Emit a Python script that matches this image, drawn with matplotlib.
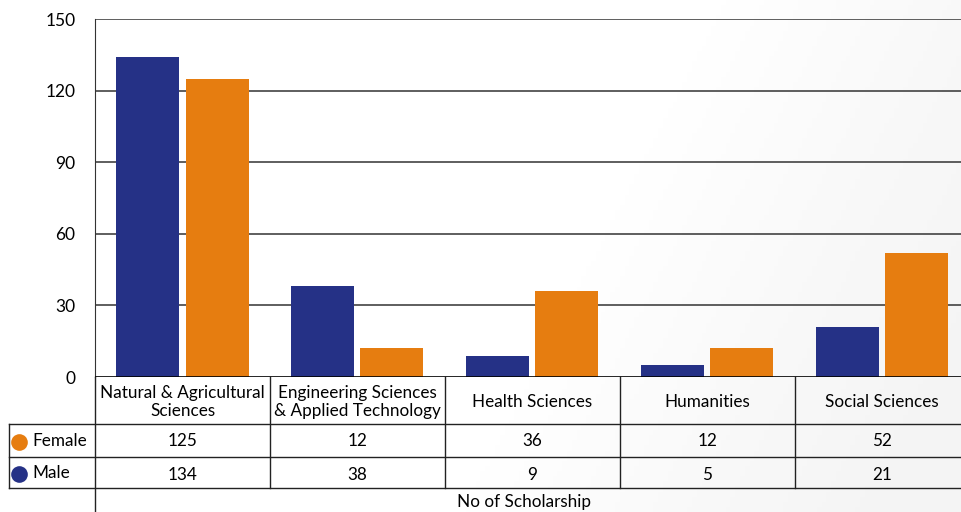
import matplotlib.pyplot as plt
import numpy as np
from matplotlib.transforms import blended_transform_factory

plt.rcParams['font.family'] = ['Lato', 'DejaVu Sans']

# data
categories = ["Natural & Agricultural\nSciences", "Engineering Sciences\n& Applied Technology",
              "Health Sciences", "Humanities", "Social Sciences"]
male = [134, 38, 9, 5, 21]
female = [125, 12, 36, 12, 52]
yticks = [0, 30, 60, 90, 120, 150]

male_col = "#253186"
female_col = "#E67D10"

W, H = 961, 512
fig = plt.figure(figsize=(W / 100, H / 100), dpi=100)

# soft background gradient
bg = fig.add_axes([0, 0, 1, 1], zorder=-10)
gx = np.linspace(0, 1, 200)
gy = np.linspace(0, 1, 100)
GX, GY = np.meshgrid(gx, gy)
grad = np.clip((GX - 0.6) * 2.2 + (0.5 - GY) * 0.6, 0, 1)
bg.imshow(grad, cmap="Greys", vmin=0, vmax=11, extent=[0, 1, 0, 1], aspect="auto", origin="lower")
bg.axis("off")

def fx(x):
    return x / W

def fy(y):
    return 1 - y / H

ax = fig.add_axes([fx(95), fy(377), fx(961) - fx(95), fy(19) - fy(377)])
ax.set_facecolor("none")
x = np.arange(len(categories))
bw = 0.36
gap = 0.035
ax.bar(x - bw / 2 - gap / 2, male, bw, color=male_col, zorder=3)
ax.bar(x + bw / 2 + gap / 2, female, bw, color=female_col, zorder=3)
ax.set_xlim(-0.5, 4.45)
ax.set_ylim(0, 150)
ax.set_yticks(yticks)
ax.tick_params(axis="y", length=0, pad=14, labelsize=12.5)
ax.set_xticks([])
for t in yticks[1:]:
    ax.axhline(t, color="#333333", lw=1.1, zorder=1)
ax.axhline(0, color="black", lw=1.2, zorder=4)
for s in ["top", "right", "bottom"]:
    ax.spines[s].set_visible(False)
ax.spines["left"].set_color("#333333")

# table under the axes
tr = blended_transform_factory(ax.transData, fig.transFigure)
lc = "#222222"
bounds = np.arange(len(categories) + 1) - 0.5
for b in bounds[1:-1]:
    ax.plot([b, b], [fy(377), fy(488)], transform=tr, color=lc, lw=1, clip_on=False)
fig.add_artist(plt.Line2D([fx(95), fx(95)], [fy(377), fy(512)], color=lc, lw=1))
for yy in [424, 457, 488]:
    fig.add_artist(plt.Line2D([fx(9), 1], [fy(yy), fy(yy)], color=lc, lw=1))
fig.add_artist(plt.Line2D([fx(9), fx(9)], [fy(424), fy(488)], color=lc, lw=1))

for i, c in enumerate(categories):
    ax.text(i, fy(402), c, transform=tr, ha="center", va="center", fontsize=12.3, linespacing=1.2)
    ax.text(i, fy(441), str(female[i]), transform=tr, ha="center", va="center", fontsize=12.3)
    ax.text(i, fy(475), str(male[i]), transform=tr, ha="center", va="center", fontsize=12.3)

for yy, lab, col in [(442, "Female", female_col), (474, "Male", male_col)]:
    fig.add_artist(plt.Line2D([fx(19)], [fy(yy)], marker="o", markersize=12,
                              markerfacecolor=col, markeredgecolor="none", linestyle="none"))
    fig.text(fx(32), fy(yy - 1), lab, ha="left", va="center", fontsize=12.3)

fig.text(fx(524), fy(502), "No of Scholarship", ha="center", va="center", fontsize=12.3)

fig.savefig("out.png", dpi=100)
